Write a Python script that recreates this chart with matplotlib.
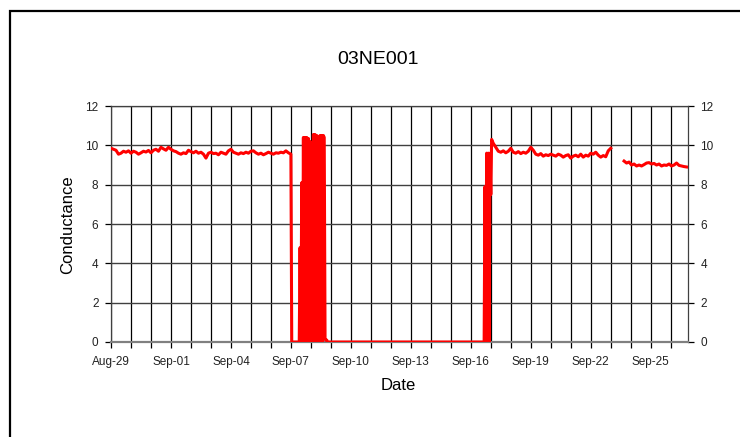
import numpy as np
import pandas as pd
import matplotlib
matplotlib.use("Agg")
import matplotlib.pyplot as plt
import matplotlib.dates as mdates
from matplotlib.patches import Rectangle

plt.rcParams["font.family"] = ["Liberation Sans", "DejaVu Sans"]

# -------------------------------
# DATA
# -------------------------------
STATION = "03NE001"

# 3-hourly readings, Aug-29 00:00 -> Sep-07 00:00
start_a = "2003-08-29 00:00"
cond_a = [9.85, 9.80, 9.75, 9.55, 9.60, 9.70, 9.65, 9.72, 9.60, 9.70,
          9.65, 9.55, 9.62, 9.70, 9.66, 9.74, 9.62, 9.75, 9.80, 9.70,
          9.90, 9.82, 9.75, 9.90, 9.80, 9.72, 9.68, 9.60, 9.55, 9.62,
          9.58, 9.75, 9.68, 9.62, 9.70, 9.60, 9.65, 9.55, 9.35, 9.60,
          9.65, 9.58, 9.60, 9.52, 9.65, 9.60, 9.55, 9.72, 9.80, 9.65,
          9.60, 9.55, 9.62, 9.58, 9.65, 9.60, 9.70, 9.72, 9.62, 9.55,
          9.60, 9.52, 9.58, 9.65, 9.60, 9.55, 9.62, 9.60, 9.65, 9.62,
          9.72, 9.62, 9.55]

# hourly readings while the probe failed, Sep-07 01:00 -> Sep-08 20:00
start_b = "2003-09-07 01:00"
cond_b = [0.0, 0.0, 0.0, 0.0, 0.0, 0.0, 0.0, 0.0, 0.0, 0.0,
          4.8, 0.0, 8.1, 0.0, 10.4, 0.0, 10.4, 0.0, 10.4, 0.0,
          10.35, 6.45, 10.2, 0.0, 10.0, 0.0, 10.55, 0.0, 10.55, 0.0,
          10.5, 0.1, 0.0, 0.0, 10.5, 0.0, 10.5, 0.0, 10.5, 10.4,
          0.15, 0.1, 0.1, 0.0]

# flat zero stretch
zero_times = ["2003-09-08 21:00", "2003-09-16 15:00"]
zero_vals = [0.0, 0.0]

# hourly recovery, Sep-16 16:00 -> Sep-17 01:00
start_c = "2003-09-16 16:00"
cond_c = [0.0, 7.9, 0.0, 9.6, 0.0, 9.6, 0.0, 9.6, 7.5, 10.3]

# 3-hourly, Sep-17 03:00 -> Sep-23 00:00
start_d = "2003-09-17 03:00"
cond_d = [10.1, 9.90, 9.70, 9.65, 9.72, 9.62, 9.70, 9.85, 9.65, 9.60,
          9.68, 9.58, 9.65, 9.60, 9.70, 9.90, 9.75, 9.55, 9.50, 9.58,
          9.45, 9.52, 9.48, 9.55, 9.50, 9.45, 9.55, 9.50, 9.40, 9.48,
          9.52, 9.35, 9.45, 9.50, 9.42, 9.55, 9.40, 9.50, 9.45, 9.60,
          9.55, 9.65, 9.50, 9.40, 9.48, 9.42, 9.72, 9.85]

# no data Sep-23 morning
gap_time = "2003-09-23 08:00"

# 3-hourly, Sep-23 16:00 -> Sep-26 19:00
start_e = "2003-09-23 16:00"
cond_e = [9.20, 9.10, 9.15, 9.00, 9.05, 8.95, 9.00, 8.95, 9.02, 9.10,
          9.12, 9.05, 9.08, 9.00, 9.05, 8.95, 9.00, 8.98, 9.05, 8.95,
          9.00, 9.10, 8.98, 8.95, 8.92, 8.90]

tick_dates = ["2003-08-29", "2003-09-01", "2003-09-04", "2003-09-07",
              "2003-09-10", "2003-09-13", "2003-09-16", "2003-09-19",
              "2003-09-22", "2003-09-25"]
x_start = "2003-08-29 00:00"
x_end = "2003-09-26 20:24"
y_ticks = [0, 2, 4, 6, 8, 10, 12]


def seg(start, freq, vals):
    return pd.Series(vals, index=pd.date_range(start, periods=len(vals), freq=freq))


series = pd.concat([
    seg(start_a, "3h", cond_a),
    seg(start_b, "1h", cond_b),
    pd.Series(zero_vals, index=pd.to_datetime(zero_times)),
    seg(start_c, "1h", cond_c),
    seg(start_d, "3h", cond_d),
    pd.Series([np.nan], index=pd.to_datetime([gap_time])),
    seg(start_e, "3h", cond_e),
]).sort_index()

# -------------------------------
# PLOT
# -------------------------------
fig = plt.figure(figsize=(7.4, 4.37), dpi=100)
ax = fig.add_axes([111 / 740, 1 - 342 / 437, (687.7 - 111) / 740, (342 - 106) / 437])

ax.plot(series.index, series.values, color="#ff0000", lw=2.2, zorder=3)

ax.set_xlim(pd.Timestamp(x_start), pd.Timestamp(x_end))
ax.set_ylim(0, 12)
ax.set_yticks(y_ticks)

ax.set_xticks(pd.to_datetime(tick_dates))
ax.xaxis.set_major_formatter(mdates.DateFormatter("%b-%d"))
ax.xaxis.set_minor_locator(mdates.DayLocator())

ax.grid(which="both", axis="x", color="black", lw=0.9)
ax.grid(which="major", axis="y", color="#404040", lw=1.0)
ax.set_axisbelow(True)

ax.tick_params(axis="x", which="both", direction="out", length=4, width=0.9,
               color="black", labelsize=8.5, pad=6)
ax.tick_params(axis="y", direction="out", length=4, width=0.9, color="black",
               labelsize=8.5, right=True, labelright=True, pad=5)
for lab in ax.get_xticklabels() + ax.get_yticklabels():
    lab.set_color("#222222")

for side in ["top", "right", "left"]:
    ax.spines[side].set_color("#404040")
    ax.spines[side].set_linewidth(0.9)
ax.spines["bottom"].set_color("#808080")
ax.spines["bottom"].set_linewidth(1.6)

fig.text(378 / 740, 1 - 60 / 437, STATION, fontsize=14, ha="center", va="center")
fig.text(68 / 740, 1 - 225 / 437, "Conductance", fontsize=12, rotation=90,
         ha="center", va="center")
fig.text(398 / 740, 1 - 385 / 437, "Date", fontsize=12, ha="center", va="center")

# chart frame (runs past the right and bottom edges)
fig.patches.append(Rectangle((9.5 / 740, -0.2), 2.0, 1.2 - 10.5 / 437,
                             transform=fig.transFigure, fill=False,
                             edgecolor="black", lw=1.6))

fig.savefig("out.png", dpi=100)
